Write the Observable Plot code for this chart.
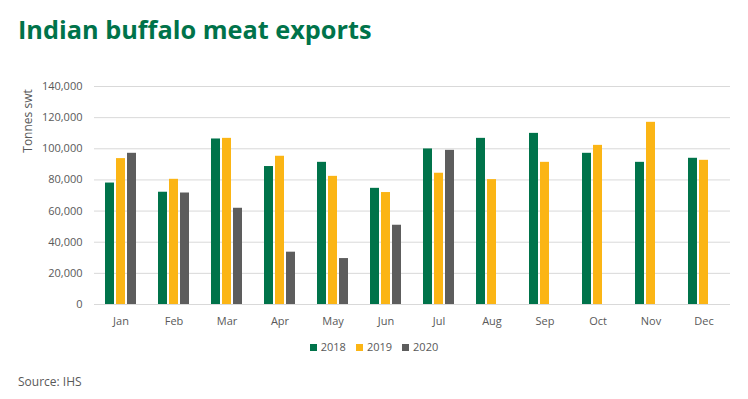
<!DOCTYPE html>
<html><head><meta charset="utf-8">
<script src="https://cdn.jsdelivr.net/npm/d3@7"></script>
<script src="https://cdn.jsdelivr.net/npm/@observablehq/plot@0.6"></script>
<style>
body{margin:0;background:#fff;}
#wrap{position:relative;width:748px;height:399px;font-family:"Open Sans",sans-serif;overflow:hidden;background:#fff;}
#title{position:absolute;left:18px;top:17px;font-size:25.3px;line-height:25px;font-weight:700;color:#00734A;white-space:nowrap;}
#ylabel{position:absolute;left:27px;top:121px;transform:translate(-50%,-50%) rotate(-90deg);font-size:12px;color:#595959;white-space:nowrap;}
#chart{position:absolute;left:0;top:70px;}
#legend{position:absolute;left:0;width:748px;top:339px;text-align:center;font-size:11px;color:#595959;line-height:16px;}
#legend .item{display:inline-block;margin:0 5px;}
#legend .sw{display:inline-block;width:7px;height:7px;margin-right:4px;vertical-align:0px;}
#source{position:absolute;left:18px;top:375px;font-size:12px;line-height:13px;color:#595959;}
</style></head><body>
<div id="wrap">
  <div id="title">Indian buffalo meat exports</div>
  <div id="ylabel">Tonnes swt</div>
  <div id="chart"></div>
  <div id="legend"></div>
  <div id="source">Source: IHS</div>
</div>
<script>
const months = ["Jan","Feb","Mar","Apr","May","Jun","Jul","Aug","Sep","Oct","Nov","Dec"];
const years = ["2018","2019","2020"];
const colors = ["#00734A","#FBB515","#5D5D5D"];
const v2018 = [78000, 72100, 106300, 88600, 91300, 74600, 99900, 106700, 109900, 97100, 91300, 93900];
const v2019 = [93700, 80400, 106700, 95200, 82300, 71900, 84300, 80200, 91300, 102200, 117000, 92600];
const v2020 = [97100, 71600, 61800, 33600, 29500, 50900, 99000, null, null, null, null, null];
const yTicks = [0, 20000, 40000, 60000, 80000, 100000, 120000, 140000];

const series = [v2018, v2019, v2020];
const data = [];
months.forEach((m, i) => {
  years.forEach((yr, j) => {
    const v = series[j][i];
    if (v != null) data.push({month: m, year: yr, value: v});
  });
});

const plot = Plot.plot({
  width: 748,
  height: 264,
  marginTop: 16,
  marginBottom: 30,
  marginLeft: 93,
  marginRight: 18,
  style: {fontFamily: "Open Sans", fontSize: "11px", color: "#595959", background: "transparent"},
  fx: {domain: months, padding: 0, label: null},
  x: {domain: years, axis: null, paddingInner: 0.2, paddingOuter: 0.82},
  y: {domain: [0, 140000], axis: null},
  color: {domain: years, range: colors},
  marks: [
    Plot.gridY(yTicks, {stroke: "#d9d9d9", strokeOpacity: 1}),
    Plot.axisY(yTicks, {tickSize: 0, tickPadding: 12, tickFormat: d3.format(","), label: null, fill: "#595959"}),
    Plot.axisFx({anchor: "bottom", tickSize: 0, tickPadding: 13, label: null, fill: "#595959"}),
    Plot.barY(data, {fx: "month", x: "year", y: "value", fill: "year"})
  ]
});
document.getElementById("chart").appendChild(plot);

const leg = document.getElementById("legend");
years.forEach((yr, j) => {
  const item = document.createElement("span");
  item.className = "item";
  const sw = document.createElement("span");
  sw.className = "sw";
  sw.style.background = colors[j];
  item.appendChild(sw);
  item.appendChild(document.createTextNode(yr));
  leg.appendChild(item);
});
</script>
</body></html>
